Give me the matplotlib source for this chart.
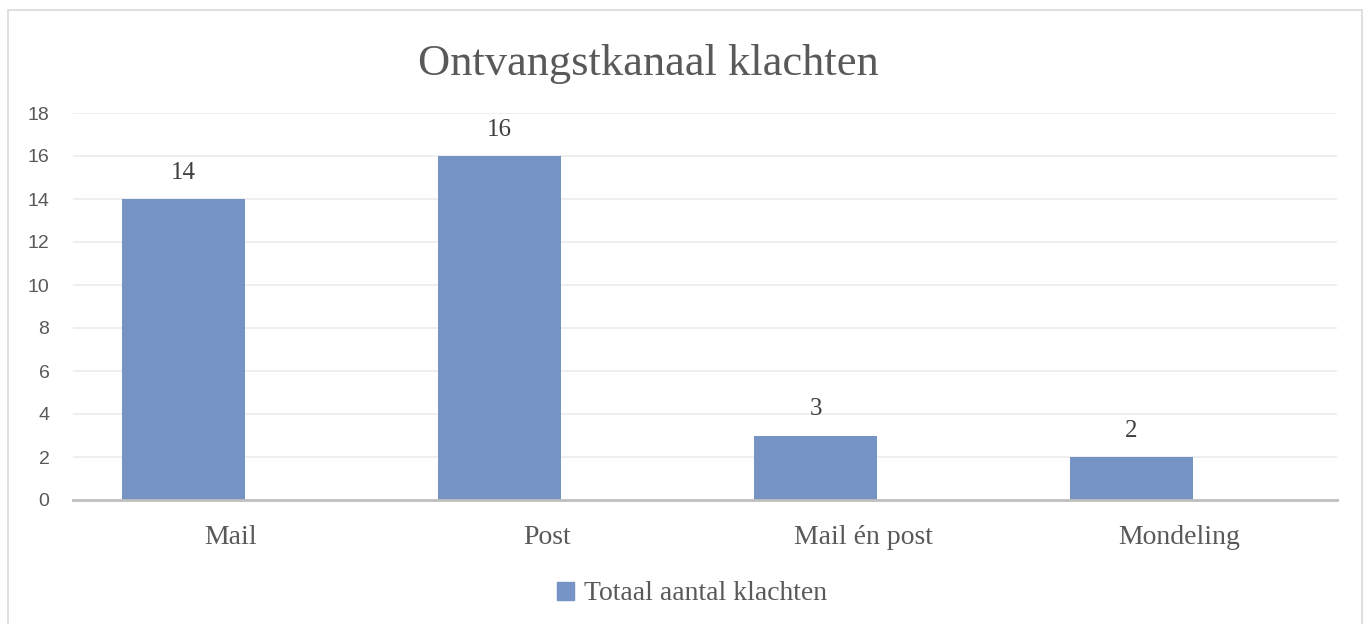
# Ontvangstkanaal klachten - bar chart recreation
import matplotlib.pyplot as plt
from matplotlib.patches import Rectangle, Patch

# %% data
categories = ['Mail', 'Post', 'Mail én post', 'Mondeling']
counts = [14, 16, 3, 2]
series_name = 'Totaal aantal klachten'
y_ticks = [0, 2, 4, 6, 8, 10, 12, 14, 16, 18]

BAR_COLOR = '#7593C5'
TEXT_GRAY = '#595959'
SERIF = 'Liberation Serif'
SANS = 'Liberation Sans'

W, H = 1371, 624
fig = plt.figure(figsize=(W / 100, H / 100), dpi=100)
fig.patch.set_facecolor('white')

# outer chart frame
fig.patches.append(Rectangle((8 / W, -0.05), (1362 - 8) / W, 1.05 - 10 / H,
                             transform=fig.transFigure, fill=False,
                             edgecolor='#D9D9D9', lw=1.2))

ax = fig.add_axes([73 / W, (H - 500) / H, (1337 - 73) / W, (500 - 113) / H])

# bars sit left of the category centre (empty second series in the original)
offset = 0.15
x = [i - offset for i in range(len(categories))]
bars = ax.bar(x, counts, width=0.39, color=BAR_COLOR, zorder=3)
for xi, v in zip(x, counts):
    ax.annotate(str(v), (xi, v), xytext=(0, 11), textcoords='offset points',
                ha='center', va='bottom', fontsize=18, family=SERIF,
                color='#404040')

ax.set_xlim(-0.5, len(categories) - 0.5)
ax.set_ylim(0, 18)
ax.set_yticks(y_ticks)
ax.set_xticks(range(len(categories)))
ax.set_xticklabels(categories, family=SERIF, fontsize=20, color=TEXT_GRAY)
for lab in ax.get_yticklabels():
    lab.set_family(SANS)
    lab.set_fontsize(14)
    lab.set_color(TEXT_GRAY)
ax.tick_params(axis='both', length=0)
ax.tick_params(axis='x', pad=18)
ax.tick_params(axis='y', pad=17)
ax.grid(axis='y', color='#EBEBEB', lw=1.2, zorder=0)
for side in ['top', 'right', 'left']:
    ax.spines[side].set_visible(False)
ax.spines['bottom'].set_color('#BFBFBF')
ax.spines['bottom'].set_linewidth(2)
ax.spines['bottom'].set_zorder(4)

fig.text(648 / W, 1 - 64 / H, 'Ontvangstkanaal klachten', ha='center',
         va='center', family=SERIF, fontsize=32, color=TEXT_GRAY)

fig.legend(handles=[Patch(color=BAR_COLOR, label=series_name)],
           loc='center', bbox_to_anchor=(692 / W, 1 - 594 / H),
           frameon=False, prop={'family': SERIF, 'size': 20},
           labelcolor=TEXT_GRAY, handlelength=0.6, handleheight=0.6,
           handletextpad=0.35)

fig.savefig('out.png', dpi=100)
